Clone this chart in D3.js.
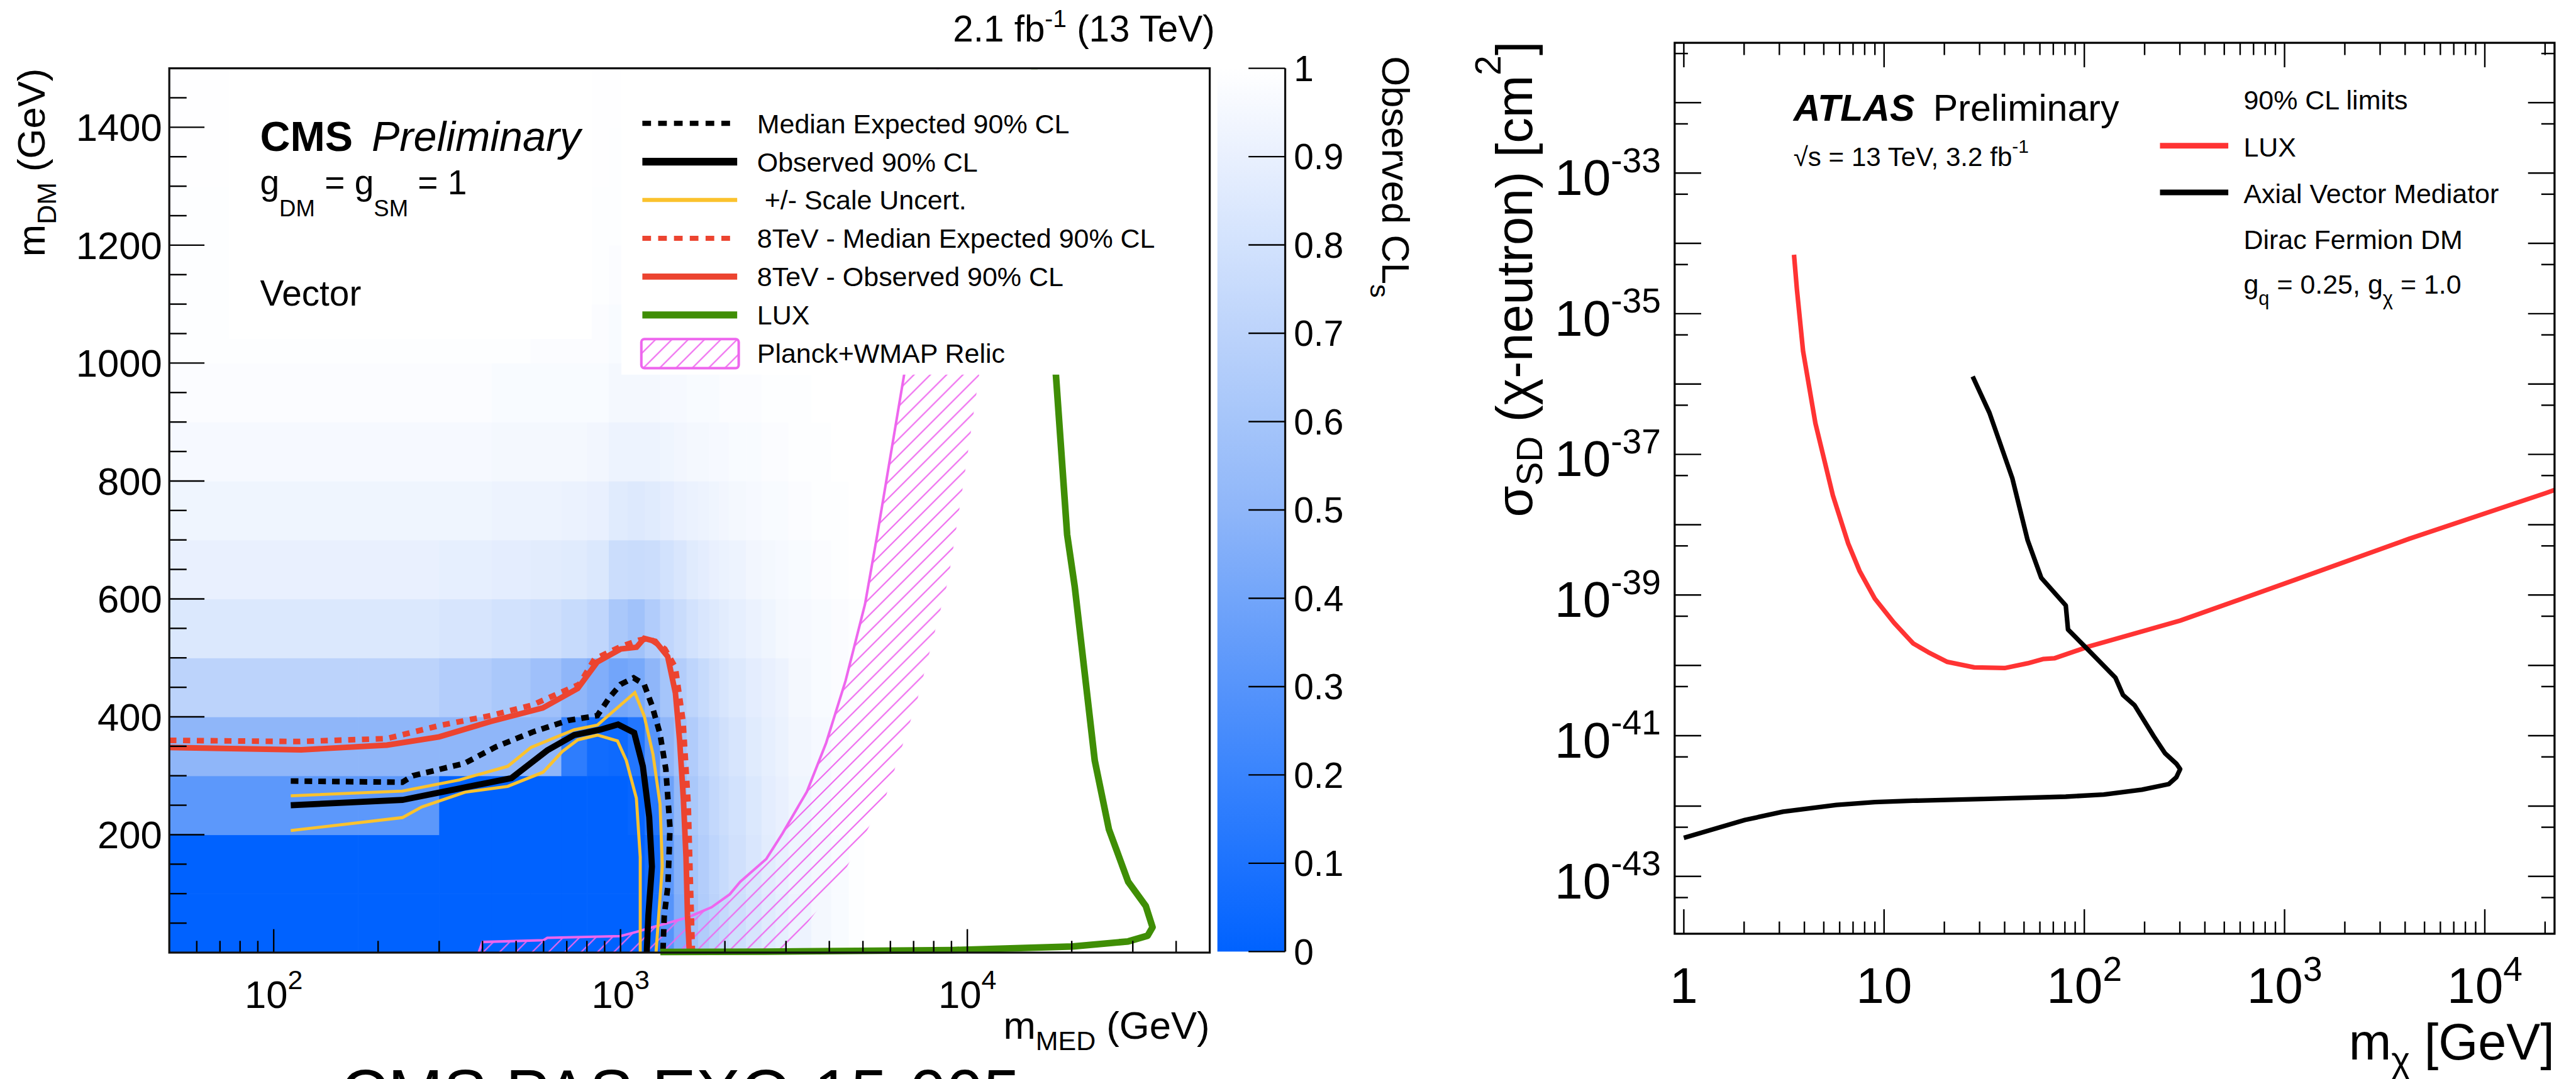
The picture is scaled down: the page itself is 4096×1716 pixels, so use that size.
<!DOCTYPE html>
<html><head><meta charset="utf-8">
<script src="https://cdn.jsdelivr.net/npm/d3@7"></script>
<style>
html,body{margin:0;padding:0;background:#fff;overflow:hidden}
text{white-space:pre}
</style></head><body>
<script>
// ================= DATA =================
// ---- CMS (left) : observed CLs grid, bins in m_MED (GeV) and m_DM (GeV)
const medEdges = [50,175,300,425,550,675,800,925,1050,1175,1300,1425,1550,1675,1800,1925,2050,2300,2550,2800,3050,3550,4050,4550,5050,50000];
const dmEdges = [0,100,200,300,400,500,600,700,800,900,1000,1100,1200,1300,1400,1500];
const clsGrid = [
 [0,0,0,0,0,0,0,0,0,0.05,0.3,0.45,0.58,0.65,0.7,0.74,0.78,0.82,0.86,0.89,0.92,0.95,0.97,0.99,1],
 [0,0,0,0,0,0,0,0,0,0.06,0.32,0.47,0.6,0.66,0.71,0.75,0.79,0.83,0.87,0.9,0.93,0.95,0.97,0.99,1],
 [0.32,0.32,0,0,0,0,0,0,0.02,0.12,0.38,0.52,0.62,0.68,0.73,0.77,0.8,0.84,0.88,0.9,0.93,0.96,0.98,0.99,1],
 [0.5,0.5,0.5,0.5,0.5,0.16,0.06,0.05,0.12,0.3,0.5,0.58,0.65,0.71,0.75,0.79,0.82,0.86,0.89,0.91,0.94,0.96,0.98,0.99,1],
 [0.7,0.7,0.66,0.62,0.57,0.5,0.45,0.4,0.42,0.5,0.6,0.66,0.71,0.75,0.79,0.82,0.85,0.88,0.9,0.92,0.95,0.97,0.98,0.99,1],
 [0.84,0.84,0.82,0.8,0.78,0.75,0.72,0.62,0.58,0.65,0.72,0.76,0.8,0.83,0.85,0.87,0.89,0.91,0.93,0.95,0.96,0.97,0.98,0.99,1],
 [0.9,0.9,0.89,0.88,0.87,0.86,0.84,0.77,0.76,0.77,0.8,0.83,0.86,0.88,0.9,0.91,0.92,0.94,0.95,0.96,0.97,0.98,0.99,1,1],
 [0.93,0.93,0.93,0.92,0.92,0.91,0.9,0.86,0.85,0.86,0.88,0.9,0.91,0.92,0.93,0.94,0.95,0.96,0.97,0.97,0.98,0.99,0.99,1,1],
 [0.96,0.96,0.96,0.95,0.95,0.95,0.94,0.92,0.92,0.92,0.93,0.94,0.95,0.95,0.96,0.96,0.97,0.97,0.98,0.98,0.99,0.99,1,1,1],
 [0.98,0.98,0.98,0.97,0.97,0.97,0.97,0.95,0.95,0.95,0.96,0.96,0.97,0.97,0.97,0.98,0.98,0.98,0.99,0.99,0.99,1,1,1,1],
 [0.99,0.99,0.99,0.99,0.98,0.98,0.98,0.97,0.97,0.97,0.98,0.98,0.98,0.98,0.99,0.99,0.99,0.99,0.99,1,1,1,1,1,1],
 [0.99,0.99,0.99,0.99,0.99,0.99,0.99,0.98,0.98,0.98,0.99,0.99,0.99,0.99,0.99,0.99,1,1,1,1,1,1,1,1,1],
 [0.99,0.99,0.99,0.99,0.99,0.99,0.99,0.99,0.99,0.99,0.99,0.99,1,1,1,1,1,1,1,1,1,1,1,1,1],
 [0.995,0.995,0.995,0.995,0.995,0.995,0.995,0.99,0.99,0.99,0.995,0.995,1,1,1,1,1,1,1,1,1,1,1,1,1],
 [0.995,0.995,0.995,0.995,0.995,0.995,0.995,0.995,0.995,0.995,1,1,1,1,1,1,1,1,1,1,1,1,1,1,1]
];
// ---- CMS contours [m_MED, m_DM]
const exp13 = [[112,291],[235,289],[252,300],[355,321],[437,349],[557,374],[709,394],[857,402],[933,434],[1001,455],[1091,466],[1170,455],[1231,420],[1300,371],[1351,311],[1389,212],[1370,113],[1337,63],[1325,0]];
const obs13 = [[112,250],[235,259],[485,296],[615,343],[735,369],[872,378],[984,387],[1095,373],[1160,316],[1210,230],[1232,146],[1203,63],[1190,0]];
const scaleUp = [[112,266],[235,274],[343,293],[473,316],[552,348],[735,378],[858,386],[1100,441],[1171,401],[1241,336],[1300,252],[1320,147],[1266,0]];
const scaleDown = [[112,207],[235,229],[267,247],[356,272],[473,282],[598,306],[679,341],[753,361],[858,369],[980,359],[1039,326],[1111,262],[1140,162],[1140,0]];
const exp8 = [[50,360],[118,358],[212,363],[300,385],[422,402],[557,420],[760,455],[842,498],[1001,519],[1129,530],[1210,533],[1342,515],[1439,484],[1515,392],[1568,250],[1590,120],[1612,0]];
const obs8 = [[50,348],[120,344],[212,352],[300,366],[422,392],[597,415],[753,448],[857,493],[1002,515],[1112,518],[1170,533],[1260,528],[1368,502],[1440,440],[1480,361],[1518,261],[1545,162],[1560,63],[1580,0]];
const luxCMS = [[1303,1],[2600,1.5],[9100,4.3],[20100,10.4],[29100,19],[33100,28.6],[34200,43],[32700,79],[29100,120],[25600,209],[23300,326],[21800,474],[20400,621],[19400,709],[18000,981],[16700,1202],[15600,1500]];
const relicLine = [[390,0],[400,18],[600,21],[615,25],[1000,28],[1110,35],[1235,43],[1310,47],[1567,60],[1831,77],[2066,99],[2213,120],[2633,159],[2930,202],[3447,273],[3918,356],[4455,461],[5070,591],[5500,709],[6576,981],[7426,1202],[8220,1500]];
const relicEdge = [[10830,982],[9770,801],[8810,632],[7160,427],[5820,265],[4416,137],[3718,74],[3128,17],[2970,0]];
// ---- CMS ticks / labels
const cmsXMajor = [100,1000,10000];
const cmsXExp = ["2","3","4"];
const cmsYMajor = [200,400,600,800,1000,1200,1400];
const cbTicks = [0,0.1,0.2,0.3,0.4,0.5,0.6,0.7,0.8,0.9,1];
const cbLabels = ["0","0.1","0.2","0.3","0.4","0.5","0.6","0.7","0.8","0.9","1"];
const cmsLegendLabels = ["Median Expected 90% CL","Observed 90% CL"," +/- Scale Uncert.","8TeV - Median Expected 90% CL","8TeV - Observed 90% CL","LUX","Planck+WMAP Relic"];

// ---- ATLAS (right) [m_chi GeV, sigma_SD cm^2]
const luxATLAS = [[3.55,6.89e-35],[3.67,2.23e-35],[3.94,2.94e-36],[4.54,2.77e-37],[5.55,2.61e-38],[6.62,5.40e-39],[7.55,2.19e-39],[8.99,8.89e-40],[11.2,4.05e-40],[13.95,2.06e-40],[16.6,1.54e-40],[20.7,1.12e-40],[28.2,9.38e-41],[40.0,9.16e-41],[52.1,1.07e-40],[62.1,1.23e-40],[70.8,1.26e-40],[105,1.85e-40],[301,4.33e-40],[1125,1.64e-39],[4201,6.32e-39],[20400,2.85e-38],[22300,3.12e-38]];
const axialATLAS = [[27.7,1.28e-36],[33.6,3.89e-37],[43.7,4.57e-38],[52.1,6.03e-39],[61.0,1.75e-39],[80.8,7.11e-40],[82.9,3.24e-40],[105,1.64e-40],[143,6.68e-41],[156,3.80e-41],[178,2.72e-41],[222,9.86e-42],[253,5.62e-42],[288,4.01e-42],[301,3.35e-42],[288,2.56e-42],[264,2.05e-42],[194,1.71e-42],[125,1.46e-42],[80.8,1.36e-42],[33.6,1.27e-42],[13.95,1.19e-42],[8.99,1.14e-42],[5.79,1.04e-42],[3.13,8.32e-43],[2.02,6.34e-43],[1.0,3.53e-43]];
const atlasXMajor = [1,10,100,1000,10000];
const atlasXLabels = [["1",""],["10",""],["10","2"],["10","3"],["10","4"]];
const atlasYLabelExps = [-43,-41,-39,-37,-35,-33];
const atlasLegend = ["LUX","Axial Vector Mediator"];

// ================= DRAWING =================
const FONT = '"Liberation Sans", Arial, Helvetica, sans-serif';
const W = 5053, H = 2117;
const svg = d3.select("body").append("svg")
  .attr("width", 4096).attr("height", 1716)
  .attr("viewBox", `0 0 ${W} ${H}`);
svg.append("rect").attr("width", W).attr("height", H).attr("fill", "#fff");
const defs = svg.append("defs");

function rich(parent, x, y, parts, o = {}) {
  const t = parent.append("text").attr("x", x).attr("y", y)
    .attr("font-family", FONT).attr("font-size", o.size || 50)
    .attr("text-anchor", o.anchor || "start").attr("fill", o.fill || "#000");
  if (o.weight) t.attr("font-weight", o.weight);
  if (o.style) t.attr("font-style", o.style);
  if (o.transform) t.attr("transform", o.transform);
  let cur = 0;
  parts.forEach(p => {
    const s = t.append("tspan").text(p.t);
    const target = p.dy || 0;
    if (target !== cur) s.attr("dy", target - cur);
    cur = target;
    if (p.size) s.attr("font-size", p.size);
    if (p.weight) s.attr("font-weight", p.weight);
    if (p.style) s.attr("font-style", p.style);
  });
  return t;
}

// ---------- CMS panel ----------
const cL = 332, cR = 2373, cT = 134, cB = 1869;
const xC = d3.scaleLog().domain([50, 50000]).range([cL, cR]);
const yC = d3.scaleLinear().domain([0, 1500]).range([cB, cT]);
const color = d3.scaleLinear().domain([0, 0.5, 1]).range(["#0062ff", "#8fb6f9", "#ffffff"]);

defs.append("clipPath").attr("id", "clipC").append("rect")
  .attr("x", cL).attr("y", cT).attr("width", cR - cL).attr("height", cB - cT);
defs.append("clipPath").attr("id", "clipC2").append("rect")
  .attr("x", cL).attr("y", cT).attr("width", cR - cL).attr("height", cB - cT + 12);
const pat = defs.append("pattern").attr("id", "hatch").attr("patternUnits", "userSpaceOnUse")
  .attr("width", 32).attr("height", 32);
pat.append("path").attr("d", "M-8,8 L8,-8 M0,32 L32,0 M24,40 L40,24")
  .attr("stroke", "#ee66ee").attr("stroke-width", 2.6);

const gC = svg.append("g").attr("clip-path", "url(#clipC)");
const cells = [];
clsGrid.forEach((row, j) => row.forEach((v, i) => cells.push({i, j, v})));
gC.selectAll("rect.cell").data(cells).join("rect").attr("class", "cell")
  .attr("x", d => xC(medEdges[d.i]))
  .attr("width", d => xC(medEdges[d.i + 1]) - xC(medEdges[d.i]) + 0.8)
  .attr("y", d => yC(dmEdges[d.j + 1]))
  .attr("height", d => yC(dmEdges[d.j]) - yC(dmEdges[d.j + 1]) + 0.8)
  .attr("fill", d => color(d.v));

const lineC = d3.line().x(d => xC(d[0])).y(d => yC(d[1]));
// relic hatch band
gC.append("path").attr("d", lineC(relicLine.concat(relicEdge)) + "Z")
  .attr("fill", "url(#hatch)").attr("stroke", "none");
gC.append("path").attr("d", lineC(relicLine)).attr("fill", "none")
  .attr("stroke", "#ee66ee").attr("stroke-width", 5);
svg.append("g").attr("clip-path", "url(#clipC2)").append("path").attr("d", lineC(luxCMS))
  .attr("fill", "none").attr("stroke", "#3f8e05").attr("stroke-width", 13).attr("stroke-linejoin", "round");
const RED = "#ec4430", YEL = "#fbc22d";
gC.append("path").attr("d", lineC(exp8)).attr("fill", "none").attr("stroke", RED)
  .attr("stroke-width", 11).attr("stroke-dasharray", "14,13");
gC.append("path").attr("d", lineC(obs8)).attr("fill", "none").attr("stroke", RED).attr("stroke-width", 11);
gC.append("path").attr("d", lineC(scaleUp)).attr("fill", "none").attr("stroke", YEL).attr("stroke-width", 6);
gC.append("path").attr("d", lineC(scaleDown)).attr("fill", "none").attr("stroke", YEL).attr("stroke-width", 6);
gC.append("path").attr("d", lineC(exp13)).attr("fill", "none").attr("stroke", "#000")
  .attr("stroke-width", 11).attr("stroke-dasharray", "15,12");
gC.append("path").attr("d", lineC(obs13)).attr("fill", "none").attr("stroke", "#000").attr("stroke-width", 12);

// white boxes behind text and legend
svg.append("rect").attr("x", 449).attr("y", cT + 2).attr("width", 712).attr("height", 665 - cT - 2).attr("fill", "#fff");
svg.append("rect").attr("x", 1219).attr("y", cT + 2).attr("width", 1110).attr("height", 735 - cT - 2).attr("fill", "#fff");

// legend
const legX1 = 1260, legX2 = 1446, legText = 1485;
const legStyles = [
  {stroke: "#000", w: 10, dash: "17,14"}, {stroke: "#000", w: 15}, {stroke: YEL, w: 8},
  {stroke: RED, w: 10, dash: "17,14"}, {stroke: RED, w: 12}, {stroke: "#3f8e05", w: 14}, {box: true}];
cmsLegendLabels.forEach((lab, i) => {
  const yy = 242 + i * 75.2;
  const st = legStyles[i];
  if (st.box) {
    svg.append("rect").attr("x", 1258).attr("y", yy - 28).attr("width", 191).attr("height", 57)
      .attr("rx", 6).attr("fill", "url(#hatch)").attr("stroke", "#ee66ee").attr("stroke-width", 5);
  } else {
    const l = svg.append("line").attr("x1", legX1).attr("x2", legX2).attr("y1", yy).attr("y2", yy)
      .attr("stroke", st.stroke).attr("stroke-width", st.w);
    if (st.dash) l.attr("stroke-dasharray", st.dash);
  }
  rich(svg, legText, yy + 19, [{t: lab}], {size: 53});
});

// CMS texts
svg.append("text").attr("x", 510).attr("y", 296).attr("font-family", FONT).attr("font-size", 82)
  .attr("font-weight", "bold").text("CMS");
svg.append("text").attr("x", 729).attr("y", 296).attr("font-family", FONT).attr("font-size", 82)
  .attr("font-style", "italic").text("Preliminary");
rich(svg, 510, 381, [{t: "g"}, {t: "DM", size: 45, dy: 43}, {t: " = g", dy: 0}, {t: "SM", size: 45, dy: 43}, {t: " = 1", dy: 0}], {size: 68});
rich(svg, 510, 600, [{t: "Vector"}], {size: 70});
rich(svg, 2383, 81, [{t: "2.1 fb"}, {t: "-1", size: 48, dy: -28}, {t: " (13 TeV)", dy: 0}], {size: 72, anchor: "end"});
rich(svg, cR, 2038, [{t: "m"}, {t: "MED", size: 53, dy: 22}, {t: " (GeV)", dy: 0}], {size: 76, anchor: "end"});
rich(svg, 0, 0, [{t: "m"}, {t: "DM", size: 53, dy: 22}, {t: " (GeV)", dy: 0}],
  {size: 76, anchor: "end", transform: `translate(88,${cT}) rotate(-90)`});
svg.append("text").attr("x", 667).attr("y", 2190).attr("font-family", FONT).attr("font-size", 130)
  .text("CMS PAS EXO-15-005");

// CMS frame & ticks
const gAx = svg.append("g").attr("stroke", "#000");
const cmsXMinor = [];
[10, 100, 1000, 10000].forEach(dec => { for (let k = 2; k <= 9; k++) { const v = k * dec; if (v > 50 && v < 50000) cmsXMinor.push(v); } });
cmsXMinor.forEach(v => gAx.append("line").attr("x1", xC(v)).attr("x2", xC(v)).attr("y1", cB).attr("y2", cB - 23).attr("stroke-width", 3));
cmsXMajor.forEach(v => gAx.append("line").attr("x1", xC(v)).attr("x2", xC(v)).attr("y1", cB).attr("y2", cB - 46).attr("stroke-width", 3));
for (let v = 50; v < 1500; v += 50) {
  const major = cmsYMajor.includes(v);
  gAx.append("line").attr("x1", cL).attr("x2", cL + (major ? 69 : 34)).attr("y1", yC(v)).attr("y2", yC(v)).attr("stroke-width", 3);
}
svg.append("rect").attr("x", cL).attr("y", cT).attr("width", cR - cL).attr("height", cB - cT)
  .attr("fill", "none").attr("stroke", "#111").attr("stroke-width", 4);
cmsXMajor.forEach((v, i) => rich(svg, xC(v), 1977, [{t: "10"}, {t: cmsXExp[i], size: 53, dy: -37}], {size: 76, anchor: "middle"}));
cmsYMajor.forEach(v => rich(svg, 318, yC(v) + 27, [{t: String(v)}], {size: 76, anchor: "end"}));

// colorbar
const cbL = 2388, cbR = 2521, cbT = 134, cbB = 1867;
const yCB = d3.scaleLinear().domain([0, 1]).range([cbB, cbT]);
const grad = defs.append("linearGradient").attr("id", "cbgrad").attr("x1", 0).attr("x2", 0).attr("y1", 1).attr("y2", 0);
cbTicks.forEach(v => grad.append("stop").attr("offset", v).attr("stop-color", color(v)));
svg.append("rect").attr("x", cbL).attr("y", cbT).attr("width", cbR - cbL).attr("height", cbB - cbT).attr("fill", "url(#cbgrad)");
svg.append("line").attr("x1", cbR).attr("x2", cbR).attr("y1", cbT).attr("y2", cbB).attr("stroke", "#111").attr("stroke-width", 4);
cbTicks.forEach((v, i) => {
  svg.append("line").attr("x1", cbR - 72).attr("x2", cbR).attr("y1", yCB(v)).attr("y2", yCB(v)).attr("stroke", "#000").attr("stroke-width", 3);
  rich(svg, 2538, yCB(v) + 25, [{t: cbLabels[i]}], {size: 70});
});
rich(svg, 0, 0, [{t: "Observed CL"}, {t: "s", size: 53, dy: 24}],
  {size: 76, transform: "translate(2712,110) rotate(90)"});

// ---------- ATLAS panel ----------
const aL = 3285, aR = 5011, aT = 84, aB = 1832;
const xA = d3.scaleLog().domain([0.9, 22300]).range([aL, aR]);
const yA = d3.scaleLog().domain([1.53e-44, 7.1e-32]).range([aB, aT]);
defs.append("clipPath").attr("id", "clipA").append("rect")
  .attr("x", aL).attr("y", aT).attr("width", aR - aL).attr("height", aB - aT);
const gA = svg.append("g").attr("clip-path", "url(#clipA)");
const lineA = d3.line().x(d => xA(d[0])).y(d => yA(d[1]));
gA.append("path").attr("d", lineA(luxATLAS)).attr("fill", "none").attr("stroke", "#ff3333").attr("stroke-width", 9).attr("stroke-linejoin", "round");
gA.append("path").attr("d", lineA(axialATLAS)).attr("fill", "none").attr("stroke", "#000").attr("stroke-width", 9).attr("stroke-linejoin", "round");

const gAA = svg.append("g").attr("stroke", "#000").attr("stroke-width", 3);
[1, 10, 100, 1000, 10000].forEach(dec => {
  for (let k = 2; k <= 9; k++) {
    const v = k * dec; if (v >= 22300) continue;
    gAA.append("line").attr("x1", xA(v)).attr("x2", xA(v)).attr("y1", aB).attr("y2", aB - 24);
    gAA.append("line").attr("x1", xA(v)).attr("x2", xA(v)).attr("y1", aT).attr("y2", aT + 24);
  }
});
atlasXMajor.forEach(v => {
  gAA.append("line").attr("x1", xA(v)).attr("x2", xA(v)).attr("y1", aB).attr("y2", aB - 48);
  gAA.append("line").attr("x1", xA(v)).attr("x2", xA(v)).attr("y1", aT).attr("y2", aT + 48);
});
for (let e = -44; e <= -32; e++) {
  const maj = Math.pow(10, e), mn = 5 * Math.pow(10, e);
  [[maj, 52], [mn, 26]].forEach(([v, len]) => {
    if (v <= 1.53e-44 || v >= 7.1e-32) return;
    gAA.append("line").attr("x1", aL).attr("x2", aL + len).attr("y1", yA(v)).attr("y2", yA(v));
    gAA.append("line").attr("x1", aR).attr("x2", aR - len).attr("y1", yA(v)).attr("y2", yA(v));
  });
}
svg.append("rect").attr("x", aL).attr("y", aT).attr("width", aR - aL).attr("height", aB - aT)
  .attr("fill", "none").attr("stroke", "#000").attr("stroke-width", 4);
atlasXMajor.forEach((v, i) => {
  const [b, s] = atlasXLabels[i];
  const parts = [{t: b}];
  if (s) parts.push({t: s, size: 68, dy: -43});
  rich(svg, xA(v), 1968, parts, {size: 99, anchor: "middle"});
});
atlasYLabelExps.forEach(e => {
  const ty = yA(Math.pow(10, e));
  rich(svg, 3258, ty + 43, [{t: "10"}, {t: String(e), size: 68, dy: -45}], {size: 99, anchor: "end"});
});
rich(svg, aR, 2079, [{t: "m"}, {t: "χ", size: 70, dy: 24}, {t: " [GeV]", dy: 0}], {size: 100, anchor: "end"});
rich(svg, 0, 0, [{t: "σ"}, {t: "SD", size: 70, dy: 20}, {t: " (χ-neutron) [cm", dy: 0}, {t: "2", size: 70, dy: -62}, {t: "]", dy: 0}],
  {size: 100, anchor: "end", transform: `translate(3005,81) rotate(-90)`});

// ATLAS labels
svg.append("text").attr("x", 3518).attr("y", 237).attr("font-family", FONT).attr("font-size", 73)
  .attr("font-weight", "bold").attr("font-style", "italic").text("ATLAS");
svg.append("text").attr("x", 3792).attr("y", 237).attr("font-family", FONT).attr("font-size", 73).text("Preliminary");
rich(svg, 3518, 326, [{t: "√s = 13 TeV, 3.2 fb"}, {t: "-1", size: 37, dy: -26}], {size: 52});
rich(svg, 4401, 215, [{t: "90% CL limits"}], {size: 53});
const atlasLegStroke = ["#ff3333", "#000"];
atlasLegend.forEach((lab, i) => {
  const base = 307 + i * 91.5;
  svg.append("line").attr("x1", 4237).attr("x2", 4371).attr("y1", base - 21).attr("y2", base - 21)
    .attr("stroke", atlasLegStroke[i]).attr("stroke-width", 11);
  rich(svg, 4401, base, [{t: lab}], {size: 53});
});
rich(svg, 4401, 488, [{t: "Dirac Fermion DM"}], {size: 53});
rich(svg, 4401, 576, [{t: "g"}, {t: "q", size: 38, dy: 22}, {t: " = 0.25, g", dy: 0}, {t: "χ", size: 38, dy: 22}, {t: " = 1.0", dy: 0}], {size: 53});
</script>
</body></html>
